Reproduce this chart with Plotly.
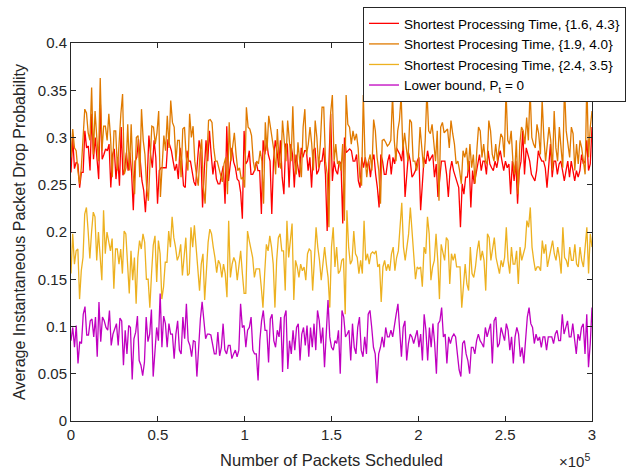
import numpy as np
import plotly.graph_objects as go

# ---------------- data ----------------
series_names = [
    "Shortest Processing Time, {1.6, 4.3}",
    "Shortest Procesing Time, {1.9, 4.0}",
    "Shortest Procesing Time, {2.4, 3.5}",
    "Lower bound, P<sub>t</sub> = 0",
]

spt_16_43 = [
    0.263,0.300,0.267,0.274,0.272,0.247,0.263,0.263,0.307,0.289,0.291,0.265,0.325,0.277,0.300,0.275,0.256,0.335,0.277,0.282,0.288,0.286,0.293,0.247,0.282,0.288,0.256,0.279,0.249,0.311,0.260,0.267,0.284,0.265,0.284,0.263,0.223,0.275,0.279,0.298,0.279,0.254,0.244,0.221,0.254,0.302,0.282,0.268,0.297,0.279,0.230,0.265,0.268,0.268,0.268,0.268,0.298,0.291,0.286,0.275,0.265,0.272,0.256,0.289,0.275,0.249,
    0.247,0.286,0.275,0.275,0.261,0.253,0.249,0.275,0.297,0.286,0.226,0.265,0.297,0.275,0.307,0.282,0.261,0.275,0.256,0.251,0.251,0.261,0.270,0.230,0.312,0.254,0.275,0.289,0.274,0.268,0.256,0.254,0.242,0.214,0.307,0.272,0.275,0.286,0.261,0.261,0.265,0.274,0.265,0.265,0.219,0.297,0.282,0.297,0.282,0.275,0.219,0.275,0.297,0.286,0.268,0.297,0.258,0.240,0.293,0.293,0.247,0.293,0.282,0.247,0.282,0.268,0.258,0.289,0.279,0.286,0.286,0.265,0.279,0.247,0.286,0.289,0.261,0.265,0.275,
    0.275,0.289,0.261,0.201,0.272,0.325,0.254,0.275,0.265,0.261,0.275,0.272,0.209,0.300,0.284,0.286,0.288,0.286,0.275,0.275,0.282,0.254,0.247,0.279,0.268,0.279,0.268,0.275,0.258,0.275,0.282,0.261,0.247,0.226,0.282,0.275,0.261,0.261,0.275,0.282,0.261,0.279,0.272,0.289,0.286,0.282,0.275,0.293,0.237,0.265,0.284,0.275,0.258,0.261,0.265,0.275,0.279,0.223,0.247,0.279,0.272,0.286,0.275,0.279,0.282,0.258,0.272,0.237,0.254,0.275,0.275,0.275,0.261,0.237,0.265,0.275,0.265,0.258,0.254,
    0.247,0.205,0.251,0.240,0.258,0.258,0.275,0.226,0.265,0.251,0.261,0.275,0.282,0.265,0.275,0.275,0.261,0.286,0.272,0.268,0.265,0.275,0.268,0.279,0.286,0.275,0.265,0.275,0.268,0.272,0.240,0.275,0.254,0.275,0.230,0.265,0.275,0.307,0.261,0.289,0.282,0.275,0.261,0.258,0.254,0.265,0.286,0.279,0.275,0.275,0.268,0.247,0.275,0.293,0.258,0.275,0.275,0.261,0.272,0.275,0.265,0.254,0.265,0.275,0.258,0.275,0.265,0.254,0.265,0.258,0.265,0.282,0.272,0.275,0.297,0.265,0.272,0.311,
]

spt_19_40 = [
    0.279,0.309,0.289,0.286,0.265,0.251,0.268,0.300,0.330,0.326,0.305,0.297,0.353,0.282,0.328,0.300,0.275,0.363,0.286,0.312,0.312,0.297,0.325,0.300,0.258,0.307,0.307,0.265,0.297,0.325,0.346,0.261,0.268,0.314,0.265,0.314,0.265,0.240,0.300,0.302,0.258,0.330,0.297,0.282,0.247,0.233,0.275,0.312,0.311,0.293,0.305,0.328,0.237,0.265,0.302,0.286,0.323,0.289,0.339,0.316,0.311,0.275,0.297,0.297,0.258,0.309,0.311,0.279,
    0.265,0.325,0.300,0.312,0.275,0.260,0.249,0.282,0.298,0.247,0.230,0.275,0.318,0.319,0.316,0.289,0.275,0.275,0.268,0.258,0.253,0.272,0.279,0.240,0.316,0.275,0.293,0.305,0.282,0.265,0.268,0.256,0.258,0.247,0.332,0.311,0.309,0.302,0.275,0.265,0.275,0.272,0.286,0.275,0.230,0.316,0.286,0.323,0.311,0.295,0.286,0.261,0.309,0.275,0.267,0.318,0.295,0.275,0.318,0.297,0.275,0.333,0.275,0.261,0.295,0.275,0.258,0.311,0.330,0.282,0.293,0.311,0.293,0.265,0.318,0.300,0.268,0.293,0.332,
    0.332,0.275,0.261,0.205,0.326,0.345,0.275,0.293,0.272,0.275,0.265,0.293,0.212,0.345,0.314,0.311,0.293,0.307,0.297,0.304,0.289,0.258,0.249,0.345,0.279,0.258,0.275,0.282,0.265,0.319,0.307,0.279,0.265,0.230,0.297,0.298,0.295,0.291,0.293,0.297,0.345,0.297,0.275,0.307,0.318,0.345,0.286,0.305,0.289,0.275,0.319,0.316,0.275,0.275,0.265,0.275,0.311,0.293,0.268,0.297,0.350,0.307,0.304,0.314,0.293,0.275,0.307,0.233,0.311,0.316,0.305,0.307,0.309,0.289,0.318,0.304,0.293,0.272,0.275,
    0.265,0.251,0.286,0.279,0.289,0.265,0.293,0.268,0.282,0.251,0.286,0.311,0.307,0.279,0.293,0.275,0.272,0.318,0.307,0.282,0.275,0.293,0.275,0.289,0.304,0.300,0.279,0.350,0.297,0.293,0.307,0.275,0.261,0.297,0.240,0.293,0.311,0.307,0.293,0.321,0.297,0.350,0.300,0.293,0.289,0.314,0.304,0.282,0.340,0.300,0.275,0.293,0.311,0.297,0.265,0.328,0.289,0.275,0.311,0.289,0.268,0.355,0.307,0.293,0.279,0.311,0.304,0.265,0.293,0.272,0.297,0.289,0.275,0.261,0.360,0.279,0.311,0.328,
]

spt_24_35 = [
    0.156,0.198,0.166,0.180,0.182,0.129,0.159,0.173,0.219,0.226,0.201,0.172,0.200,0.221,0.216,0.170,0.200,0.170,0.149,0.223,0.177,0.200,0.189,0.180,0.193,0.140,0.182,0.182,0.166,0.182,0.156,0.201,0.198,0.170,0.135,0.180,0.149,0.173,0.124,0.173,0.191,0.182,0.198,0.189,0.150,0.150,0.120,0.156,0.186,0.196,0.147,0.191,0.177,0.129,0.142,0.168,0.168,0.201,0.184,0.216,0.194,0.184,0.170,0.175,0.187,0.154,0.177,0.194,0.154,
    0.156,0.205,0.184,0.207,0.184,0.166,0.138,0.166,0.177,0.128,0.163,0.189,0.203,0.198,0.184,0.173,0.157,0.170,0.166,0.152,0.166,0.156,0.131,0.212,0.152,0.166,0.173,0.168,0.149,0.163,0.180,0.156,0.135,0.135,0.201,0.191,0.180,0.173,0.152,0.161,0.161,0.161,0.142,0.120,0.156,0.187,0.180,0.196,0.184,0.166,0.120,0.170,0.194,0.198,0.180,0.180,0.138,0.212,0.173,0.191,0.209,0.128,0.170,0.163,0.152,0.166,0.159,0.163,0.149,0.177,0.182,0.180,0.138,0.170,0.205,0.184,0.170,0.149,0.170,
    0.184,0.166,0.152,0.120,0.184,0.205,0.163,0.184,0.156,0.159,0.170,0.172,0.113,0.223,0.184,0.166,0.170,0.201,0.177,0.173,0.156,0.170,0.156,0.212,0.170,0.177,0.166,0.177,0.179,0.177,0.180,0.163,0.166,0.126,0.163,0.170,0.159,0.166,0.159,0.177,0.184,0.159,0.173,0.180,0.205,0.231,0.184,0.170,0.184,0.198,0.226,0.201,0.166,0.150,0.163,0.161,0.163,0.142,0.184,0.177,0.216,0.198,0.149,0.163,0.170,0.198,0.170,0.129,0.187,0.180,0.170,0.194,0.191,0.145,0.177,0.170,0.177,0.163,0.163,
    0.163,0.120,0.149,0.166,0.145,0.138,0.184,0.156,0.152,0.163,0.180,0.191,0.170,0.180,0.170,0.138,0.198,0.194,0.170,0.184,0.194,0.173,0.166,0.156,0.170,0.163,0.173,0.205,0.170,0.156,0.184,0.166,0.166,0.180,0.145,0.184,0.170,0.177,0.184,0.212,0.205,0.226,0.184,0.170,0.159,0.163,0.163,0.159,0.191,0.177,0.187,0.163,0.173,0.184,0.191,0.177,0.170,0.184,0.173,0.156,0.205,0.173,0.170,0.163,0.184,0.170,0.170,0.187,0.166,0.163,0.184,0.170,0.163,0.184,0.205,0.156,0.198,0.184,
]

lower_bound = [
    0.085,0.099,0.078,0.101,0.061,0.084,0.082,0.113,0.121,0.091,0.091,0.106,0.108,0.089,0.110,0.068,0.126,0.084,0.110,0.106,0.099,0.096,0.117,0.080,0.092,0.097,0.103,0.080,0.109,0.106,0.059,0.096,0.071,0.101,0.099,0.044,0.087,0.094,0.111,0.064,0.059,0.048,0.062,0.110,0.084,0.092,0.118,0.047,0.078,0.099,0.085,0.135,0.078,0.111,0.103,0.078,0.103,0.092,0.092,0.066,0.092,0.106,0.075,
    0.071,0.110,0.087,0.124,0.085,0.080,0.068,0.085,0.084,0.047,0.085,0.108,0.126,0.103,0.087,0.092,0.092,0.091,0.082,0.071,0.071,0.094,0.069,0.078,0.103,0.075,0.071,0.080,0.080,0.066,0.071,0.075,0.068,0.075,0.124,0.099,0.101,0.078,0.096,0.099,0.110,0.075,0.071,0.071,0.043,0.085,0.106,0.117,0.096,0.096,0.062,0.108,0.113,0.085,0.078,0.096,0.089,0.110,0.052,0.110,0.117,0.055,0.085,0.071,0.096,0.075,0.099,0.103,0.064,0.092,0.099,0.080,0.101,0.068,0.099,0.078,0.103,0.075,0.117,
    0.106,0.082,0.099,0.057,0.092,0.128,0.089,0.078,0.075,0.085,0.082,0.096,0.050,0.117,0.110,0.089,0.092,0.096,0.064,0.103,0.078,0.071,0.099,0.110,0.075,0.068,0.089,0.071,0.113,0.117,0.099,0.078,0.071,0.040,0.071,0.078,0.089,0.078,0.099,0.089,0.089,0.096,0.089,0.099,0.113,0.124,0.092,0.068,0.099,0.106,0.064,0.082,0.092,0.089,0.082,0.089,0.096,0.078,0.092,0.064,0.113,0.096,0.064,0.099,0.078,0.103,0.082,0.050,0.103,0.106,0.120,0.089,0.092,0.061,0.089,0.082,0.089,0.092,0.089,
    0.071,0.054,0.047,0.082,0.085,0.071,0.064,0.050,0.078,0.078,0.071,0.085,0.092,0.085,0.082,0.078,0.099,0.089,0.096,0.103,0.061,0.106,0.110,0.078,0.082,0.099,0.092,0.085,0.103,0.096,0.075,0.089,0.061,0.089,0.099,0.092,0.068,0.078,0.061,0.082,0.110,0.120,0.103,0.099,0.082,0.092,0.085,0.089,0.078,0.089,0.089,0.075,0.089,0.089,0.089,0.082,0.092,0.096,0.085,0.085,0.113,0.092,0.099,0.106,0.089,0.089,0.103,0.085,0.071,0.092,0.085,0.099,0.103,0.071,0.113,0.057,0.082,0.120,
]

x_max_packets = 300000
x_tick_values = [0, 50000, 100000, 150000, 200000, 250000, 300000]
x_tick_labels = ["0", "0.5", "1", "1.5", "2", "2.5", "3"]
y_tick_values = [0, 0.05, 0.1, 0.15, 0.2, 0.25, 0.3, 0.35, 0.4]
y_tick_labels = ["0", "0.05", "0.1", "0.15", "0.2", "0.25", "0.3", "0.35", "0.4"]

colors = ["#FF0000", "#E07A00", "#EDB120", "#C000C0"]
series = [spt_16_43, spt_19_40, spt_24_35, lower_bound]

FONT = "Liberation Sans, Arial, Helvetica, sans-serif"
INK = "#262626"

fig = go.Figure()
for name, ys, col in zip(series_names, series, colors):
    xs = np.linspace(0, x_max_packets, len(ys))
    fig.add_trace(go.Scatter(x=xs, y=ys, mode="lines", name=name,
                             line=dict(color=col, width=1.3)))

axis_common = dict(
    showline=True, mirror="ticks", linecolor=INK, linewidth=1,
    ticks="inside", ticklen=5, tickcolor=INK, tickwidth=1,
    showgrid=False, zeroline=False,
    tickfont=dict(family=FONT, size=15, color=INK),
)

fig.update_layout(
    width=638, height=471,
    margin=dict(l=71, r=46, t=43, b=50, autoexpand=False),
    paper_bgcolor="white", plot_bgcolor="white",
    font=dict(family=FONT, color=INK),
    xaxis=dict(range=[0, x_max_packets], tickvals=x_tick_values, ticktext=x_tick_labels,
               title=dict(text="Number of Packets Scheduled", font=dict(size=16.5, family=FONT, color=INK),
                          standoff=12),
               **axis_common),
    yaxis=dict(range=[0, 0.4], tickvals=y_tick_values, ticktext=y_tick_labels,
               title=dict(text="Average Instantaneous Packet Drop Probability",
                          font=dict(size=16, family=FONT, color=INK), standoff=8),
               **axis_common),
    showlegend=True,
    legend=dict(x=0.5605, y=1.095, xanchor="left", yanchor="top",
                bgcolor="white", bordercolor=INK, borderwidth=1,
                font=dict(family=FONT, size=13.5, color="#000000"),
                tracegroupgap=0, itemwidth=30),
    annotations=[dict(text="\u00d710<sup>5</sup>", xref="paper", yref="paper",
                      x=1.0, y=-0.105, xanchor="right", yanchor="middle",
                      showarrow=False, font=dict(family=FONT, size=15, color=INK))],
)

fig.write_html("out.html", config={"displayModeBar": False},
               post_script="document.body.style.margin='0';")
